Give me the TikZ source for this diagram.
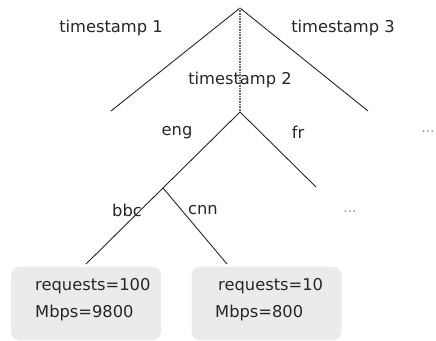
\documentclass[tikz,border=0pt]{standalone}
\usepackage{fontspec}
\setmainfont{DejaVu Sans}
\begin{document}
\begin{tikzpicture}[x=1pt,y=1pt,
  lbl/.style={inner sep=0pt,text=black!85,font=\fontsize{16.3}{18}\selectfont},
  dots/.style={inner sep=0pt,text=black!40,font=\fontsize{14}{16}\selectfont},
  edge/.style={draw=black!85,line width=0.9pt},
  box/.style={fill=black!8,draw=none,rounded corners=8pt,minimum width=150pt,minimum height=73pt,inner sep=0pt},
  boxtxt/.style={inner sep=0pt,anchor=west,text=black!85,font=\fontsize{16.3}{18}\selectfont}]
\useasboundingbox (0,0) rectangle (436,340);
% boxes
\node[box] (b1) at (86,36.5) {};
\node[box] (b2) at (266.5,36.5) {};
\node[boxtxt] (r1) at (35,54) {requests=100};
\node[boxtxt] (m1) at (35,27) {Mbps=9800};
\node[boxtxt] (r2) at (218,54) {requests=10};
\node[boxtxt] (m2) at (215,27) {Mbps=800};
% coordinates
\coordinate (root) at (240,332);
\coordinate (t1) at (111,229);
\coordinate (t3) at (368,229);
\coordinate (mid) at (240,228);
\coordinate (br) at (163,152);
\coordinate (engend) at (86,76);
\coordinate (cnnend) at (227,76);
\coordinate (frend) at (316,153);
% edges
\draw[edge] (root) -- (t1);
\draw[edge] (root) -- (t3);
\draw[edge] (mid) -- (engend);
\draw[edge] (br) -- (cnnend);
\draw[edge] (mid) -- (frend);
% labels
\node[lbl] (l1) at (111,312) {timestamp 1};
\node[lbl] (l3) at (343,312) {timestamp 3};
\node[lbl] (l2) at (240,260) {timestamp 2};
\draw[draw=black!60,line width=1.2pt,dash pattern=on 1pt off 0.6pt] (root) -- (mid);
\node[lbl] (eng) at (177,207) {eng};
\node[lbl] (fr) at (298,208) {fr};
\node[dots] (d1) at (428,208) {...};
\node[lbl] (bbc) at (127,130) {bbc};
\node[lbl] (cnn) at (203,130) {cnn};
\node[dots] (d2) at (350,128) {...};
\end{tikzpicture}
\end{document}
